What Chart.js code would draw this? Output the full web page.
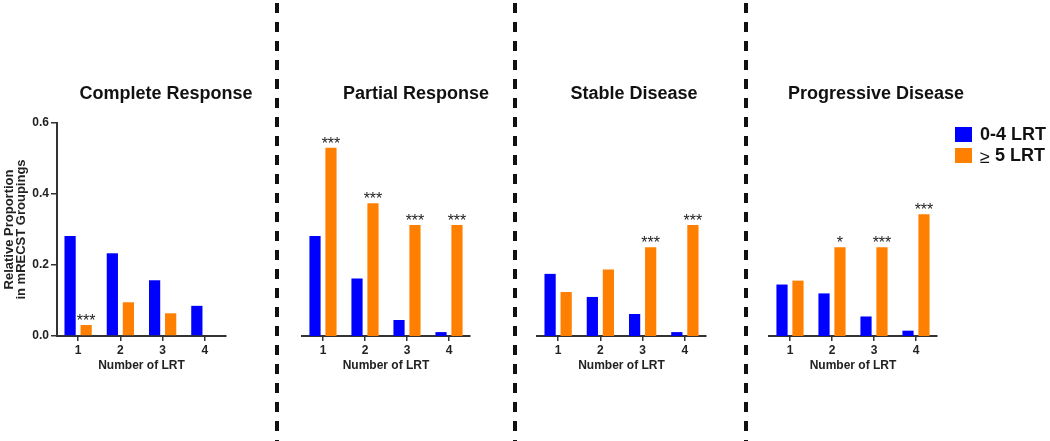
<!DOCTYPE html>
<html>
<head>
<meta charset="utf-8">
<script src="https://cdn.jsdelivr.net/npm/chart.js@4/dist/chart.umd.min.js"></script>
<style>
  body { margin: 0; background: #fff; }
  #wrap { position: relative; width: 1050px; height: 441px; overflow: hidden; font-family: "Liberation Sans", Arial, sans-serif; }
  #wrap canvas { position: absolute; left: 0; top: 0; pointer-events: none; }
  .ptitle { position: absolute; top: 84px; font-weight: bold; font-size: 18px; line-height: 18px; color: #111; white-space: nowrap; transform: translateX(-50%); }
  .leg { position: absolute; left: 955px; font-weight: bold; font-size: 18px; line-height: 18px; color: #111; white-space: nowrap; }
  .leg span { display: inline-block; width: 17px; height: 15px; vertical-align: -2px; margin-right: 8px; }
</style>
</head>
<body>
<div id="wrap">
  <canvas id="c0" width="1050" height="441"></canvas>
  <canvas id="c1" width="1050" height="441"></canvas>
  <canvas id="c2" width="1050" height="441"></canvas>
  <canvas id="c3" width="1050" height="441"></canvas>
  <div class="ptitle" style="left:166px">Complete Response</div>
  <div class="ptitle" style="left:416px">Partial Response</div>
  <div class="ptitle" style="left:634px">Stable Disease</div>
  <div class="ptitle" style="left:876px">Progressive Disease</div>
  <div class="leg" style="top:125px"><span style="background:#0000ff"></span>0-4 LRT</div>
  <div class="leg" style="top:146px"><span style="background:#ff8000"></span><span style="display:inline;background:none;width:auto;margin:0;font-weight:normal">&ge;</span> 5 LRT</div>
</div>
<script>
// Data
const categories = ['1', '2', '3', '4'];
const yTicks = [0, 0.2, 0.4, 0.6];

const completeLow = [0.282, 0.233, 0.157, 0.085];
const completeHigh = [0.031, 0.095, 0.064, 0];
const completeStars = ['***', '', '', ''];

const partialLow = [0.282, 0.162, 0.045, 0.011];
const partialHigh = [0.53, 0.374, 0.313, 0.313];
const partialStars = ['***', '***', '***', '***'];

const stableLow = [0.175, 0.11, 0.062, 0.011];
const stableHigh = [0.124, 0.187, 0.25, 0.313];
const stableStars = ['', '', '***', '***'];

const progressiveLow = [0.145, 0.12, 0.055, 0.015];
const progressiveHigh = [0.156, 0.25, 0.25, 0.343];
const progressiveStars = ['', '*', '***', '***'];

const BLUE = '#0000ff';
const ORANGE = '#ff8000';
const AXIS = '#333';

// plot area edges for each panel
const panels = [
  { id: 'c0', low: completeLow, high: completeHigh, stars: completeStars, left: 57, right: 226, yAxis: true },
  { id: 'c1', low: partialLow, high: partialHigh, stars: partialStars, left: 302, right: 470 },
  { id: 'c2', low: stableLow, high: stableHigh, stars: stableStars, left: 537, right: 706 },
  { id: 'c3', low: progressiveLow, high: progressiveHigh, stars: progressiveStars, left: 769, right: 937 }
];

// asterisks above the orange bars
const starsPlugin = {
  id: 'stars',
  afterDatasetsDraw(chart, args, opts) {
    const ctx = chart.ctx;
    const meta = chart.getDatasetMeta(1);
    ctx.save();
    ctx.font = '16px "Liberation Sans", Arial, sans-serif';
    ctx.fillStyle = '#222';
    ctx.textAlign = 'center';
    ctx.textBaseline = 'alphabetic';
    opts.labels.forEach((s, i) => {
      if (!s) return;
      const bar = meta.data[i];
      ctx.fillText(s, bar.x, bar.y + 1);
    });
    ctx.restore();
  }
};

// dashed separators between panels
const dividerPlugin = {
  id: 'dividers',
  beforeDraw(chart) {
    const ctx = chart.ctx;
    ctx.save();
    ctx.strokeStyle = '#111';
    ctx.lineWidth = 4;
    ctx.setLineDash([10, 9]);
    [277, 515, 746].forEach(x => {
      ctx.beginPath();
      ctx.moveTo(x, 3);
      ctx.lineTo(x, 441);
      ctx.stroke();
    });
    ctx.restore();
  }
};

const tickFont = { family: '"Liberation Sans", Arial, sans-serif', size: 12, weight: 'bold' };

panels.forEach((p, k) => {
  new Chart(document.getElementById(p.id), {
    type: 'bar',
    data: {
      labels: categories,
      datasets: [
        { label: '0-4 LRT', data: p.low, backgroundColor: BLUE, categoryPercentage: 0.76, barPercentage: 0.7 },
        { label: '≥ 5 LRT', data: p.high, backgroundColor: ORANGE, categoryPercentage: 0.76, barPercentage: 0.7 }
      ]
    },
    options: {
      responsive: false,
      animation: false,
      events: [],
      layout: {
        padding: { left: p.yAxis ? 0 : p.left, right: 1050 - p.right, top: 123, bottom: 64 }
      },
      plugins: {
        legend: { display: false },
        tooltip: { enabled: false },
        stars: { labels: p.stars }
      },
      scales: {
        x: {
          grid: { offset: false, drawOnChartArea: false, drawTicks: true, tickLength: 5, color: AXIS, lineWidth: 1.5 },
          border: { display: true, color: AXIS, width: 2 },
          ticks: { color: '#222', font: tickFont, padding: 2, maxRotation: 0 },
          title: { display: true, text: 'Number of LRT', color: '#222', font: tickFont, padding: { top: 4, bottom: 4 } },
          afterFit(scale) { scale.height = 41; }
        },
        y: {
          display: !!p.yAxis,
          min: 0,
          max: 0.6,
          afterBuildTicks(scale) { scale.ticks = yTicks.map(v => ({ value: v })); },
          grid: { drawOnChartArea: false, drawTicks: true, tickLength: 6, color: AXIS, lineWidth: 1.5 },
          border: { display: true, color: AXIS, width: 2 },
          ticks: { color: '#222', font: tickFont, padding: 2, callback: v => v.toFixed(1) },
          title: {
            display: true,
            text: ['Relative Proportion', 'in mRECST Groupings'],
            color: '#222',
            font: { family: '"Liberation Sans", Arial, sans-serif', size: 13, weight: 'bold', lineHeight: 0.95 },
            padding: { top: 3, bottom: 0 }
          },
          afterFit(scale) { scale.width = p.yAxis ? 57 : 0; }
        }
      }
    },
    plugins: k === 0 ? [starsPlugin, dividerPlugin] : [starsPlugin]
  });
});
</script>
</body>
</html>
